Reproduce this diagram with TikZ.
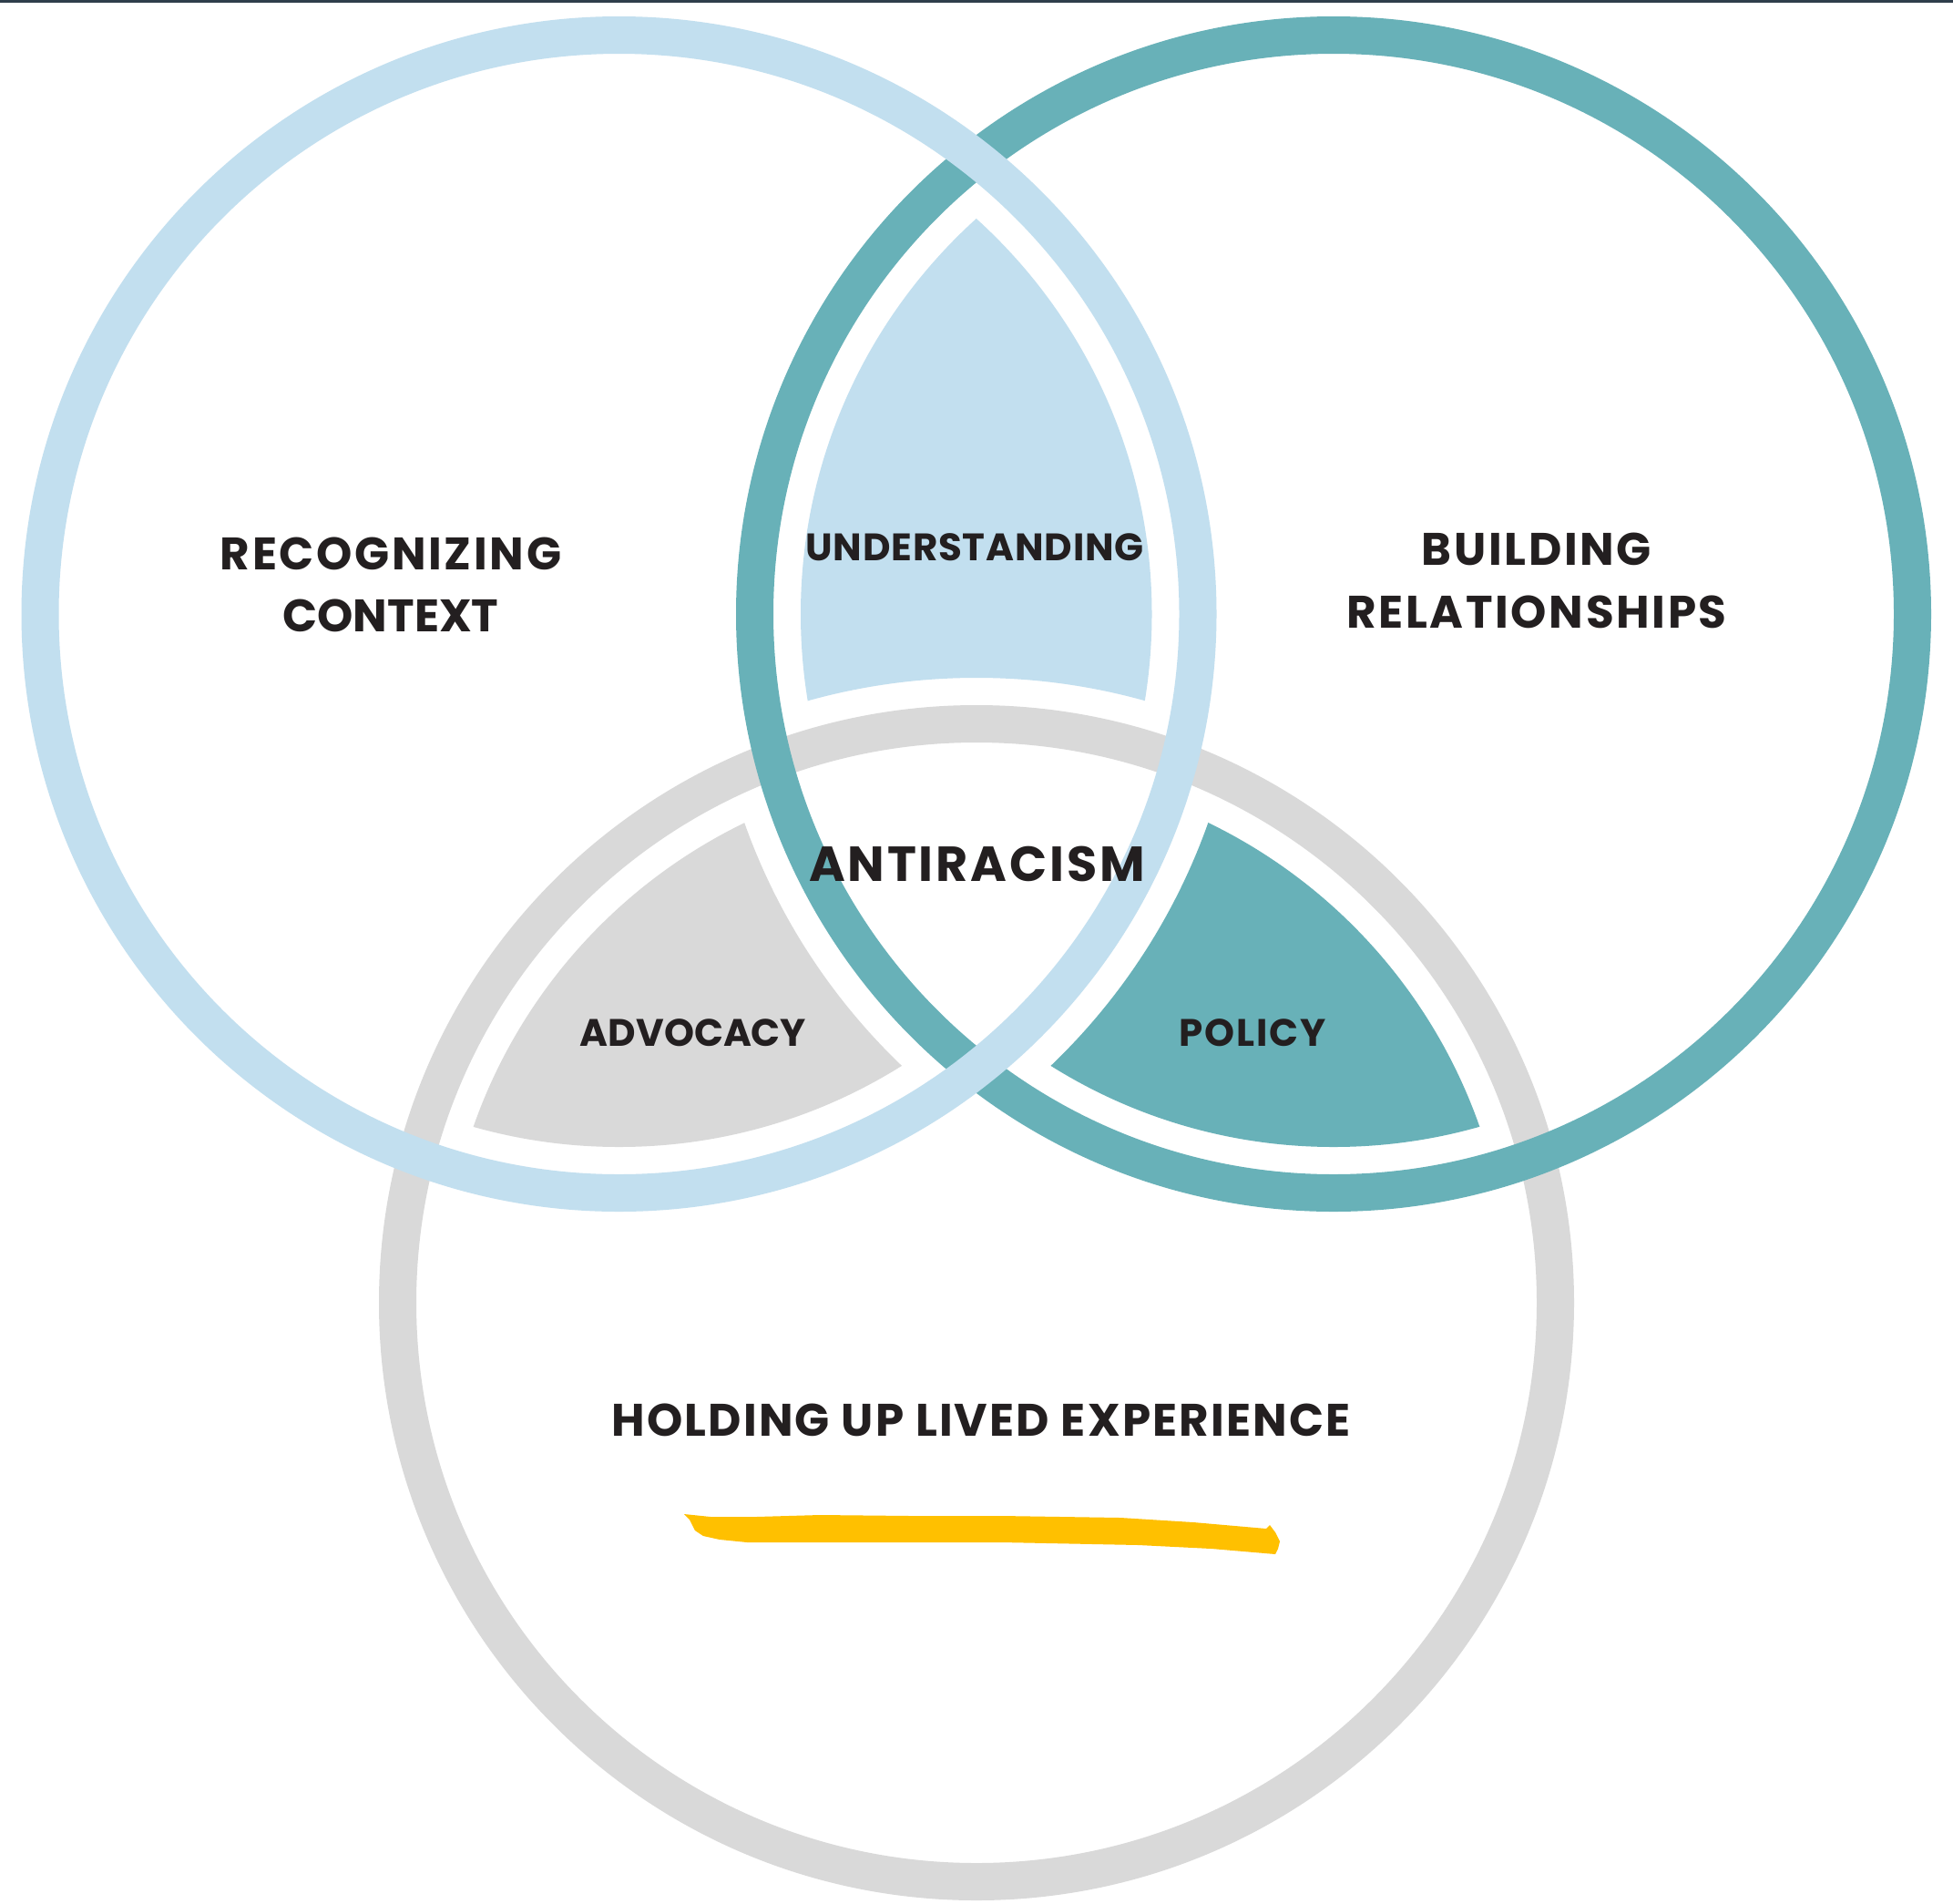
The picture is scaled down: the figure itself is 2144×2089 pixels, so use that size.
\documentclass[tikz,border=0pt]{standalone}
\usepackage{fontspec}
\setmainfont{Poppins}
\newfontfamily\popE{Poppins}[LetterSpace=5.3]
\newfontfamily\popD{Poppins}[LetterSpace=4.3]
\newfontfamily\popB{Poppins}[LetterSpace=2]
\newfontfamily\popA{Poppins}
\definecolor{lblue}{HTML}{C2DFEF}
\definecolor{teal}{HTML}{68B1B8}
\definecolor{lgray}{HTML}{D9D9D9}
\definecolor{ybrush}{HTML}{FFC000}
\definecolor{txt}{HTML}{231F20}
\definecolor{topline}{HTML}{2F3E4B}
\tikzset{
  ring/.style={line width=41pt},
  lbl/.style={text=txt, inner sep=0pt},
  single/.style={lbl, anchor=base},
  double/.style={lbl, anchor=north, align=center},
}
\begin{document}
\begin{tikzpicture}[x=1pt,y=-1pt]
\useasboundingbox (0,0) rectangle (2144,2089);
\fill[white] (0,0) rectangle (2144,2089);
\fill[topline] (0,0) rectangle (2144,2.5);
\coordinate (L) at (679.5,674);
\coordinate (R) at (1464,674);
\coordinate (B) at (1072,1430);
% understanding
\begin{scope}
  \clip (L) circle[radius=585pt];
  \clip (R) circle[radius=585pt];
  \fill[lblue, even odd rule] (0,0) rectangle (2144,2089) (B) circle[radius=686pt];
\end{scope}
% policy
\begin{scope}
  \clip (R) circle[radius=585pt];
  \clip (B) circle[radius=585pt];
  \fill[teal, even odd rule] (0,0) rectangle (2144,2089) (L) circle[radius=686pt];
\end{scope}
% advocacy
\begin{scope}
  \clip (L) circle[radius=585pt];
  \clip (B) circle[radius=585pt];
  \fill[lgray, even odd rule] (0,0) rectangle (2144,2089) (R) circle[radius=686pt];
\end{scope}
% rings
\draw[ring, lgray] (B) circle[radius=635.5pt];
\draw[ring, teal] (R) circle[radius=635.5pt];
\draw[ring, lblue] (L) circle[radius=635.5pt];
% brush underline
\fill[ybrush] (751,1662) -- (780,1665) -- (830,1665) -- (900,1663) -- (1000,1664) -- (1100,1664) -- (1230,1666) -- (1310,1671) -- (1390,1678) -- (1394,1674) -- (1400,1682) -- (1405,1692) -- (1403,1700) -- (1400,1706) -- (1330,1700) -- (1250,1696) -- (1100,1693) -- (900,1693) -- (820,1693) -- (790,1690) -- (772,1686) -- (763,1680) -- (757,1668) -- cycle;
% labels
\node[double, font=\popE\bfseries\fontsize{50}{68}\selectfont] (rc) at (429,590) {RECOGNIZING\\{\popA\bfseries CONTEXT}};
\node[double, font=\popE\bfseries\fontsize{50}{69}\selectfont] (br) at (1687,585) {BUILDING\\RELATIONSHIPS};
\node[single, font=\popB\bfseries\fontsize{42}{50}\selectfont] (und) at (1070,615) {UNDERSTANDING};
\node[single, font=\popE\bfseries\fontsize{54}{64}\selectfont] (anti) at (1072.5,967) {ANTIRACISM};
\node[single, font=\bfseries\fontsize{42}{50}\selectfont] (adv) at (761,1148) {ADVOCACY};
\node[single, font=\popD\bfseries\fontsize{42}{50}\selectfont] (pol) at (1375,1148) {POLICY};
\node[single, font=\popD\bfseries\fontsize{50}{60}\selectfont] (hold) at (1077,1576) {HOLDING UP LIVED EXPERIENCE};
\end{tikzpicture}
\end{document}
